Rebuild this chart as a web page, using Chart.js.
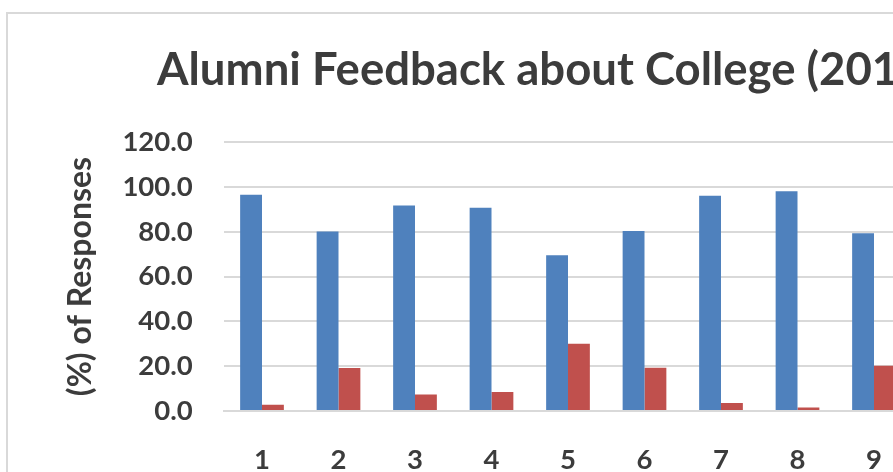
<!DOCTYPE html>
<html>
<head>
<meta charset="utf-8">
<script src="https://cdn.jsdelivr.net/npm/chart.js@4/dist/chart.umd.min.js"></script>
<style>
  html, body { margin: 0; padding: 0; background: #ffffff; overflow: hidden; width: 893px; height: 472px; }
  #frame { position: absolute; left: 6px; top: 12px; width: 1000px; height: 600px; border: 2px solid #d9d9d9; box-sizing: border-box; }
  #wrap { position: absolute; left: 0; top: 0; width: 960px; height: 520px; }
</style>
</head>
<body>
<div id="frame"></div>
<div id="wrap"><canvas id="c" width="960" height="520"></canvas></div>
<script>
// Survey questions 1..9 and the share of responses for each answer
const questions = ['1', '2', '3', '4', '5', '6', '7', '8', '9'];
const yesShare = [96.5, 80.1, 91.7, 90.7, 69.5, 80.3, 96.0, 98.0, 79.3];
const noShare  = [2.8, 19.2, 7.4, 8.5, 30.0, 19.3, 3.6, 1.6, 20.2];
const yTicks = [0, 20, 40, 60, 80, 100, 120];

const chartTitle = 'Alumni Feedback about College (2017-18)';
const textColor = '#3c3c3c';
const fontFamily = 'Lato, "Open Sans", sans-serif';

// Title drawn left-anchored inside the bordered frame
const titlePlugin = {
  id: 'leftTitle',
  afterDraw(chart) {
    const ctx = chart.ctx;
    ctx.save();
    ctx.font = 'bold 45.5px ' + fontFamily;
    ctx.fillStyle = textColor;
    ctx.textAlign = 'left';
    ctx.textBaseline = 'alphabetic';
    ctx.fillText(chartTitle, 157, 85);
    ctx.restore();
  }
};

new Chart(document.getElementById('c'), {
  type: 'bar',
  data: {
    labels: questions,
    datasets: [
      { label: 'Yes', data: yesShare, backgroundColor: '#4f81bd', borderWidth: 0 },
      { label: 'No', data: noShare, backgroundColor: '#c0504d', borderWidth: 0 }
    ]
  },
  options: {
    responsive: false,
    animation: false,
    devicePixelRatio: 1,
    layout: { padding: { left: 0, top: 142, right: 47.75, bottom: 0 } },
    plugins: {
      legend: { display: false },
      title: { display: false },
      tooltip: { enabled: false }
    },
    datasets: { bar: { categoryPercentage: 2 / 3.5, barPercentage: 1 } },
    scales: {
      x: {
        grid: { display: false, drawTicks: false },
        border: { display: true, color: '#d9d9d9', width: 2 },
        ticks: {
          color: textColor,
          font: { family: fontFamily, size: 27.5, weight: 'bold' },
          padding: 33,
          maxRotation: 0
        },
        afterFit(scale) { scale.height = 109; }
      },
      y: {
        min: 0,
        max: 120,
        afterBuildTicks(scale) { scale.ticks = yTicks.map(v => ({ value: v })); },
        grid: { color: '#d9d9d9', lineWidth: 2, drawTicks: false },
        border: { display: false },
        ticks: {
          color: textColor,
          font: { family: fontFamily, size: 27.5, weight: 'bold' },
          padding: 31,
          callback: v => Number(v).toFixed(1)
        },
        title: {
          display: true,
          text: '(%) of Responses',
          color: textColor,
          font: { family: fontFamily, size: 32, weight: 'bold' },
          padding: { top: 61, bottom: 0 }
        },
        afterFit(scale) { scale.width = 223.75; }
      }
    }
  },
  plugins: [titlePlugin]
});
</script>
</body>
</html>
